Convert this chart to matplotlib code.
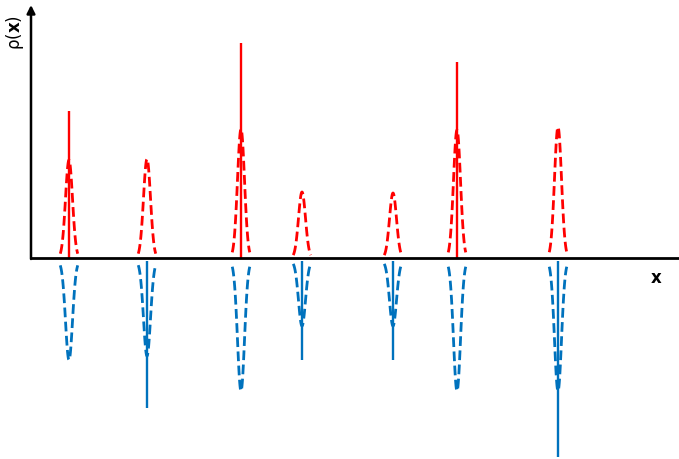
import numpy as np
import matplotlib.pyplot as plt

# peak positions along x (axis origin at 0)
centers = [0.38, 1.16, 2.10, 2.71, 3.62, 4.26, 5.27]
# dashed gaussian heights, above (red) and below (blue) the axis
red_peaks = [0.98, 0.99, 1.29, 0.66, 0.65, 1.28, 1.31]
blue_peaks = [0.99, 0.95, 1.30, 0.65, 0.65, 1.30, 1.30]
# solid spikes
red_spike_x = [0.38, 2.10, 4.26]
red_spike_h = [1.47, 2.15, 1.96]
blue_spike_x = [1.16, 2.71, 3.62, 5.27]
blue_spike_h = [1.50, 1.02, 1.02, 1.99]

sigma = 0.035
gap = 0.03
red = "#ff0000"
blue = "#0072bd"

fig = plt.figure(figsize=(6.79, 4.59), dpi=100)
ax = fig.add_axes([31 / 679, 0, 648 / 679, 1])
ax.set_xlim(0, 6.48)
ax.set_ylim(-2.01, 2.58)
ax.axis("off")

xs = np.linspace(-2.5 * sigma, 2.5 * sigma, 80)
for c, hr, hb in zip(centers, red_peaks, blue_peaks):
    g = np.exp(-0.5 * (xs / sigma) ** 2)
    ax.plot(c + xs, hr * g, color=red, lw=2, ls=(0, (3.5, 1.6)))
    ax.plot(c + xs, -gap - hb * g, color=blue, lw=2, ls=(0, (3.5, 1.6)))

ax.vlines(red_spike_x, 0, red_spike_h, color=red, lw=1.7)
ax.vlines(blue_spike_x, -gap, -np.array(blue_spike_h), color=blue, lw=1.7)

# axes
ax.plot([0, 6.48], [0, 0], color="k", lw=2, solid_capstyle="butt", zorder=5)
ax.annotate("", xy=(0, 2.53), xytext=(0, -0.01),
            arrowprops=dict(arrowstyle="-|>", color="k", lw=1.8, mutation_scale=12,
                            shrinkA=0, shrinkB=0), zorder=5)

fig.text(15 / 679, 1 - 33 / 459, r"$\mathrm{\rho}(\mathbf{x})$", rotation=90,
         ha="center", va="center", fontsize=12)
fig.text(656 / 679, 1 - 278 / 459, "x", fontweight="bold",
         ha="center", va="center", fontsize=12)

fig.savefig("out.png", dpi=100)
